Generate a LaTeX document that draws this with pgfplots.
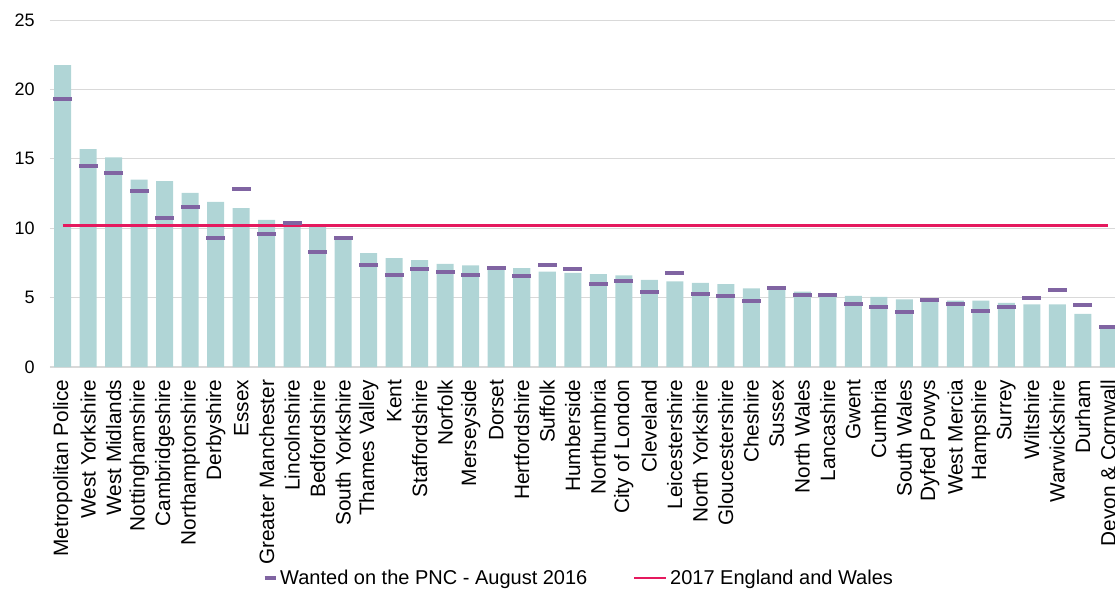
\documentclass[border=0pt]{standalone}
\usepackage{fontspec}
\setmainfont{Liberation Sans}
\usepackage{pgfplots}
\pgfplotsset{compat=1.18}
\usetikzlibrary{calc}
\definecolor{barc}{HTML}{B0D5D6}
\definecolor{purp}{HTML}{8064A2}
\definecolor{pinkl}{HTML}{E5195E}
\definecolor{gridc}{HTML}{D9D9D9}
\begin{document}
\begin{tikzpicture}
\begin{axis}[name=ax, scale only axis, width=803.25pt, height=260.25pt,
 xmin=-0.5, xmax=41.5, ymin=0, ymax=25, ytick={0,5,...,25},
 xtick={0,...,41},
 xticklabels={Metropolitan Police,West Yorkshire,West Midlands,Nottinghamshire,Cambridgeshire,Northamptonshire,Derbyshire,Essex,Greater Manchester,Lincolnshire,Bedfordshire,South Yorkshire,Thames Valley,Kent,Staffordshire,Norfolk,Merseyside,Dorset,Hertfordshire,Suffolk,Humberside,Northumbria,City of London,Cleveland,Leicestershire,North Yorkshire,Gloucestershire,Cheshire,Sussex,North Wales,Lancashire,Gwent,Cumbria,South Wales,Dyfed Powys,West Mercia,Hampshire,Surrey,Wiltshire,Warwickshire,Durham,Devon \& Cornwall},
 xticklabel shift=6pt,
 x tick label style={rotate=90, anchor=east, font=\fontsize{15.6}{17}\selectfont},
 y tick label style={font=\fontsize{13.5}{15}\selectfont, xshift=-8pt},
 /pgf/number format/assume math mode=true,
 major tick length=0pt,
 ymajorgrids, grid style={gridc, line width=0.75pt},
 axis x line*=bottom, axis y line*=left,
 x axis line style={gridc, line width=1.5pt, -},
 y axis line style={draw=none},
 legend columns=2,
 legend style={at={(0.494,-0.608)}, anchor=center, draw=none, fill=none,
   font=\fontsize{15}{17}\selectfont,
   /tikz/every even column/.append style={column sep=32pt}},
]
\addplot[ybar, bar width=12.75pt, fill=barc, draw=none, forget plot] coordinates {
(0,21.75) (1,15.7) (2,15.1) (3,13.5) (4,13.4) (5,12.55) (6,11.9) (7,11.45)
(8,10.6) (9,10.45) (10,10.2) (11,9.2) (12,8.2) (13,7.85) (14,7.7) (15,7.43)
(16,7.33) (17,7.17) (18,7.13) (19,6.88) (20,6.78) (21,6.7) (22,6.6) (23,6.27)
(24,6.17) (25,6.07) (26,5.98) (27,5.66) (28,5.57) (29,5.43) (30,5.33) (31,5.12)
(32,5.05) (33,4.88) (34,4.86) (35,4.78) (36,4.78) (37,4.62) (38,4.52) (39,4.52)
(40,3.83) (41,2.73)};
\addplot[only marks, mark=-, mark size=7pt, mark options={line width=3pt, draw=purp}, purp,
 legend image code/.code={\draw[purp, line width=3pt] (0.15cm,0) -- (0.44cm,0);}] coordinates {
(0,19.3) (1,14.5) (2,14.0) (3,12.7) (4,10.75) (5,11.55) (6,9.3) (7,12.85)
(8,9.6) (9,10.4) (10,8.3) (11,9.3) (12,7.35) (13,6.65) (14,7.05) (15,6.85)
(16,6.65) (17,7.15) (18,6.55) (19,7.38) (20,7.07) (21,5.98) (22,6.2) (23,5.43)
(24,6.78) (25,5.25) (26,5.13) (27,4.72) (28,5.67) (29,5.17) (30,5.17) (31,4.52)
(32,4.3) (33,3.95) (34,4.81) (35,4.52) (36,4.02) (37,4.3) (38,4.95) (39,5.53)
(40,4.45) (41,2.87)};
\addlegendentry{Wanted on the PNC - August 2016}
\addplot[pinkl, line width=1.9pt, mark=none,
 legend image code/.code={\draw[pinkl, line width=1.9pt] (-0.1cm,0) -- (0.75cm,0);}] coordinates {(0,10.2) (41,10.2)};
\addlegendentry{2017 England and Wales}
\end{axis}
\pgfresetboundingbox
\path[use as bounding box] ($(ax.south west)+(-37.5pt,-167.25pt)$) rectangle ($(ax.south west)+(798.75pt,275.25pt)$);
\end{tikzpicture}
\end{document}
